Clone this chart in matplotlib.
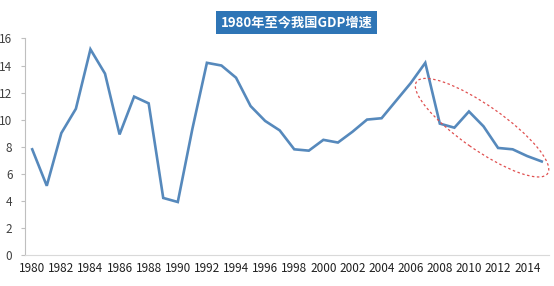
import numpy as np
import matplotlib
matplotlib.use('Agg')
import matplotlib.pyplot as plt
from matplotlib.patches import Ellipse

plt.rcParams['font.family'] = ['Noto Sans CJK SC', 'DejaVu Sans']

years = list(range(1980, 2016))
gdp = [7.8, 5.1, 9.0, 10.8, 15.2, 13.4, 8.9, 11.7, 11.2, 4.2,
       3.9, 9.3, 14.2, 14.0, 13.1, 11.0, 9.9, 9.2, 7.8, 7.7,
       8.5, 8.3, 9.1, 10.0, 10.1, 11.4, 12.7, 14.2, 9.7, 9.4,
       10.6, 9.5, 7.9, 7.8, 7.3, 6.9]
title = '1980年至今我国GDP增速'

fig = plt.figure(figsize=(5.54, 2.86), dpi=100)
ax = fig.add_axes([0.045, 0.1094, 0.946, 0.756])

ax.plot(years, gdp, color='#5689BC', lw=1.9, solid_joinstyle='miter')

ax.set_xlim(1979.5, 2015.5)
ax.set_ylim(0, 16)
ax.set_yticks(range(0, 17, 2))
ax.set_xticks(range(1980, 2015, 2))

for s in ['top', 'right']:
    ax.spines[s].set_visible(False)
ax.spines['left'].set_color('#BFBFBF')
ax.spines['bottom'].set_color('#D9D9D9')
ax.tick_params(axis='y', length=3, color='#BFBFBF', labelsize=8.5, labelcolor='#404040', pad=6)
ax.tick_params(axis='x', length=0, labelsize=8.5, labelcolor='#202020', pad=5)

# title box
fig.text(0.535, 0.922, title, ha='center', va='center', color='white',
         fontsize=9.5, fontweight='bold',
         bbox=dict(boxstyle='square,pad=0.35', fc='#2E75B6', ec='none'))

# dashed ellipse around the recent slowdown
fig.canvas.draw()
cx, cy = ax.transData.transform((2010.9, 9.4))
e = Ellipse((cx / fig.dpi, cy / fig.dpi), 1.60, 0.44, angle=-35,
            transform=fig.dpi_scale_trans, fill=False, ec='#E05050',
            ls=(0, (2, 2)), lw=0.9)
fig.patches.append(e)

fig.savefig('out.png', dpi=100)
